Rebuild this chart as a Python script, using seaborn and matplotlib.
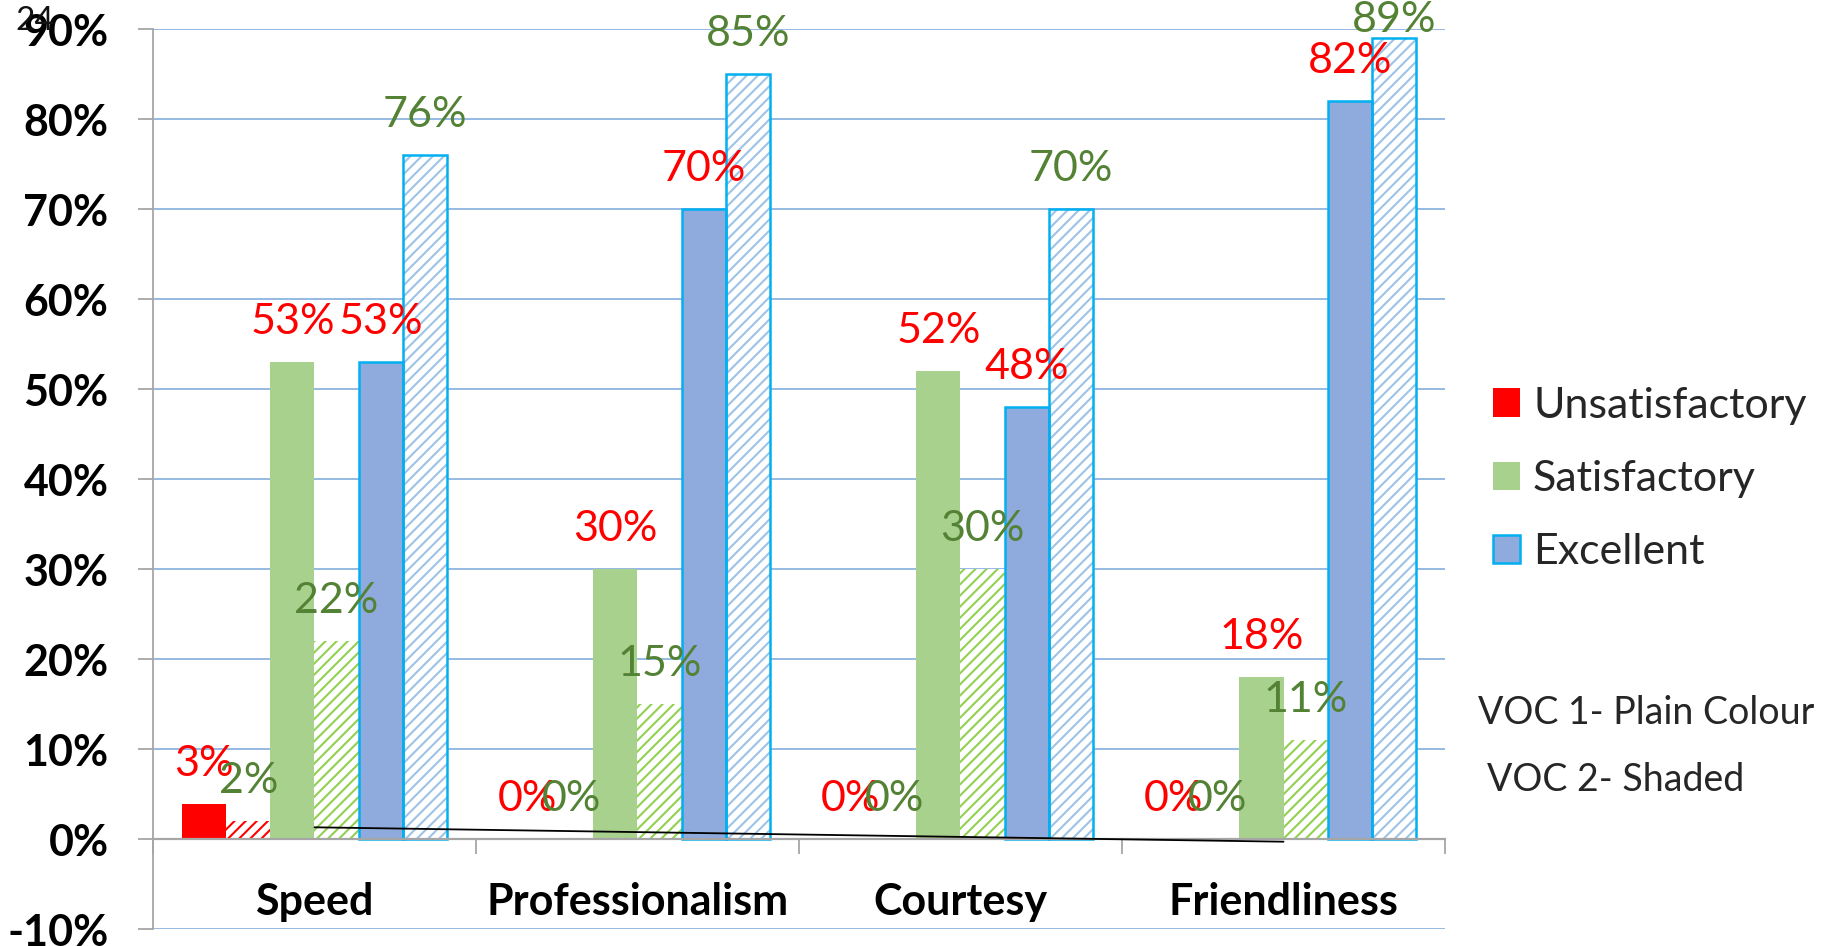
import numpy as np
import pandas as pd
import seaborn as sns
import matplotlib
matplotlib.use('Agg')
import matplotlib.pyplot as plt
from matplotlib.patches import Rectangle, Patch

# ---------------- data ----------------
categories = ['Speed', 'Professionalism', 'Courtesy', 'Friendliness']
unsat_voc1 = [3.9, 0, 0, 0]
unsat_voc2 = [2, 0, 0, 0]
sat_voc1 = [53, 30, 52, 18]
sat_voc2 = [22, 15, 30, 11]
exc_voc1 = [53, 70, 48, 82]
exc_voc2 = [76, 85, 70, 89]
# printed data labels (the first bar is labelled 3%)
unsat_voc1_label = [3, 0, 0, 0]

series_names = ['Unsatisfactory VOC 1', 'Unsatisfactory VOC 2',
                'Satisfactory VOC 1', 'Satisfactory VOC 2',
                'Excellent VOC 1', 'Excellent VOC 2']
series_values = [unsat_voc1, unsat_voc2, sat_voc1, sat_voc2, exc_voc1, exc_voc2]
series_labels = [unsat_voc1_label, unsat_voc2, sat_voc1, sat_voc2, exc_voc1, exc_voc2]

legend_labels = ['Unsatisfactory', 'Satisfactory', 'Excellent']
y_ticks = list(range(-10, 91, 10))

# stray connector line in the original (category position, value %)
trend_x = [0, 3]
trend_y = [1.3, -0.3]

# ---------------- style ----------------
RED = '#FF0000'
GREEN = '#A9D18E'
GREEN_STRIPE = '#92D050'
BLUE = '#8FAADC'
BLUE_STRIPE = '#9DC3E6'
CYAN = '#00B0F0'
LBL_RED = '#FF0000'
LBL_GREEN = '#548235'
GRID = '#8DB4E2'
AXGRAY = '#A6A6A6'
FS = 31

face_colors = [RED, 'white', GREEN, 'white', BLUE, 'white']
stripe_colors = [None, RED, None, GREEN_STRIPE, None, BLUE_STRIPE]
label_colors = [LBL_RED, LBL_GREEN] * 3

sns.set_theme(style='white')
plt.rcParams['font.family'] = ['Lato', 'DejaVu Sans']
plt.rcParams['hatch.linewidth'] = 1.5

rows = []
for name, vals in zip(series_names, series_values):
    for cat, v in zip(categories, vals):
        rows.append({'category': cat, 'series': name, 'value': v})
df = pd.DataFrame(rows)

fig = plt.figure(figsize=(18.29, 9.46), dpi=100)
ax = fig.add_axes([0.08365, 0.01797, 0.7064, 0.95137])

sns.barplot(data=df, x='category', y='value', hue='series', order=categories,
            hue_order=series_names, palette=dict(zip(series_names, face_colors)),
            width=0.82, saturation=1, errorbar=None, legend=False, ax=ax)

for i, cont in enumerate(ax.containers):
    for j, p in enumerate(cont):
        p.set_facecolor(face_colors[i])
        p.set_linewidth(0)
        if stripe_colors[i] is not None:
            p.set_hatch('///')
            p.set_edgecolor(stripe_colors[i])
        if i >= 4:
            ax.add_patch(Rectangle(p.get_xy(), p.get_width(), p.get_height(),
                                   fill=False, edgecolor=CYAN, lw=1.8, zorder=p.get_zorder() + 0.1))
        # label centre ~4.4 % above bar top, kept inside the picture near the top
        ylab = min(p.get_height() + 4.4, 91.0)
        ax.text(p.get_x() + p.get_width() / 2, ylab, f'{series_labels[i][j]:.0f}%',
                ha='center', va='center', color=label_colors[i],
                fontsize=FS, clip_on=False, zorder=6)

ax.plot(trend_x, trend_y, color='black', lw=1.3, zorder=5)

ax.set_xlim(-0.5, 3.5)
ax.set_ylim(-10, 90)
ax.set_xlabel('')
ax.set_ylabel('')

ax.set_yticks(y_ticks)
ax.set_yticklabels([f'{t}%' for t in y_ticks])
ax.tick_params(axis='y', length=11, width=1.3, color=AXGRAY, pad=21, left=True,
               labelsize=FS, labelcolor='black')
for lbl in ax.get_yticklabels():
    lbl.set_fontweight('bold')

# category boundary ticks on the zero line; category names as bold text below it
ax.set_xticks([k - 0.5 for k in range(len(categories) + 1)])
ax.set_xticklabels([])
ax.tick_params(axis='x', which='major', length=11, width=1.3, color=AXGRAY,
               direction='out', bottom=True, labelbottom=False)
for k, cat in enumerate(categories):
    ax.text(k, -8.4, cat, ha='center', va='baseline', fontsize=FS,
            fontweight='bold', color='black')

ax.grid(axis='y', color=GRID, lw=1.3)
ax.grid(axis='x', visible=False)
ax.set_axisbelow(True)

for s in ['top', 'right']:
    ax.spines[s].set_visible(False)
ax.spines['bottom'].set_position(('data', 0))
ax.spines['bottom'].set_color(AXGRAY)
ax.spines['bottom'].set_linewidth(1.6)
ax.spines['left'].set_color(AXGRAY)
ax.spines['left'].set_linewidth(1.3)

handles = [Patch(facecolor=RED, edgecolor='none'),
           Patch(facecolor=GREEN, edgecolor='none'),
           Patch(facecolor=BLUE, edgecolor=CYAN, lw=1.8)]
fig.legend(handles, legend_labels, loc='center left',
           bbox_to_anchor=(1493 / 1829, 1 - 479 / 946), frameon=False,
           fontsize=FS, handlelength=0.63, handleheight=0.63, handletextpad=0.3,
           labelspacing=0.82, borderpad=0, borderaxespad=0)

fig.text(1478 / 1829, 1 - 713 / 946, 'VOC 1- Plain Colour', va='center', ha='left', fontsize=27)
fig.text(1487 / 1829, 1 - 780 / 946, 'VOC 2- Shaded', va='center', ha='left', fontsize=27)
fig.text(15 / 1829, 1 - 6 / 946, '24', va='top', ha='left', fontsize=24, color='#111111')

fig.savefig('out.png', dpi=100)
